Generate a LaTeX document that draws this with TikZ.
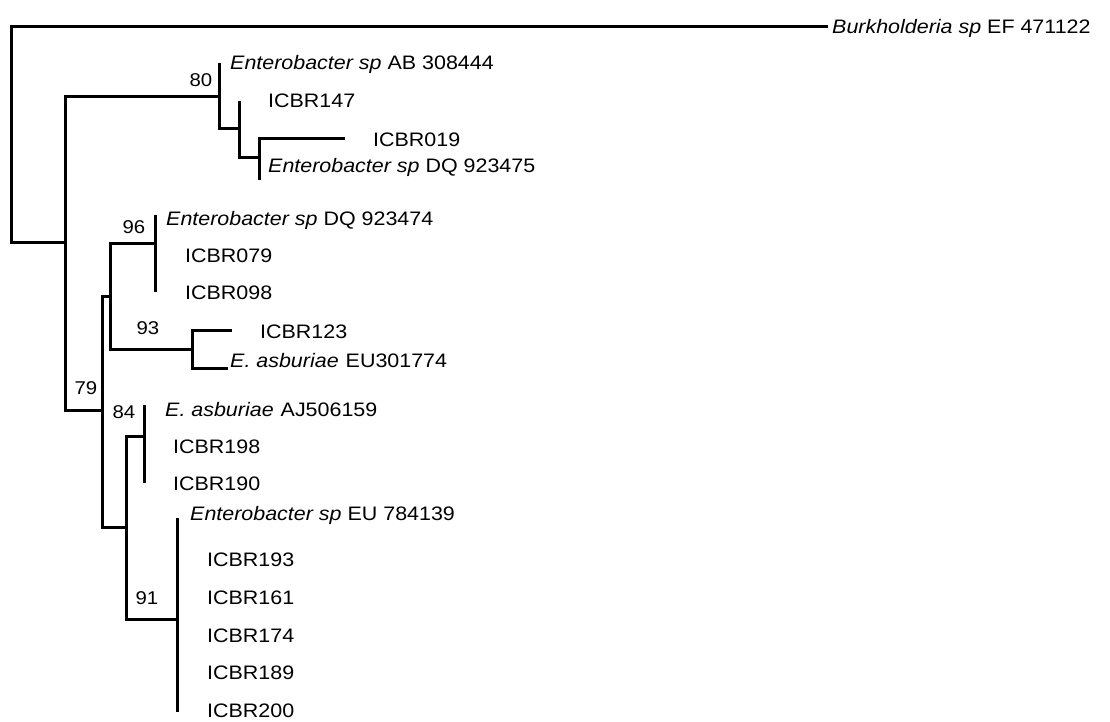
\documentclass[tikz,border=0pt]{standalone}
\usepackage{fontspec}
\setmainfont{Liberation Sans}[FakeStretch=1.1]
\begin{document}
\begin{tikzpicture}[x=1pt,y=-1pt,
  branch/.style={line width=3pt,line join=miter},
  leaf/.style={anchor=base west,inner sep=0pt,font=\fontsize{19.5}{22}\selectfont},
  boot/.style={anchor=center,inner sep=0pt,font=\fontsize{18.5}{20}\selectfont}]
\useasboundingbox[fill=white] (0,0) rectangle (1110,722);
% internal nodes
\coordinate (root) at (11,135);
\coordinate (A) at (65,242);
\coordinate (B) at (219,97);
\coordinate (C) at (239,129);
\coordinate (D) at (259,158);
\coordinate (E) at (102,410);
\coordinate (F) at (110,296);
\coordinate (G) at (155,243);
\coordinate (H) at (192,349);
\coordinate (I) at (126,527);
\coordinate (J) at (144,436);
\coordinate (K) at (177,619);
% leaf ends
\coordinate (lBur) at (828,27);
\coordinate (lAB) at (219,63);
\coordinate (l147) at (239,101);
\coordinate (l019) at (345,139);
\coordinate (lDQ5) at (259,180);
\coordinate (lDQ4) at (155,215);
\coordinate (l079) at (155,254);
\coordinate (l098) at (155,292);
\coordinate (l123) at (232,330);
\coordinate (lEU3) at (228,368);
\coordinate (lAJ) at (144,405);
\coordinate (l198) at (144,446);
\coordinate (l190) at (144,483);
\coordinate (lEU7) at (177,518);
\coordinate (l193) at (177,558);
\coordinate (l161) at (177,596);
\coordinate (l174) at (177,634);
\coordinate (l189) at (177,671);
\coordinate (l200) at (177,712);
% branches
\draw[branch] (root) |- (lBur);
\draw[branch] (root) |- (A);
\draw[branch] (A) |- (B);
\draw[branch] (A) |- (E);
\draw[branch] (B) |- (lAB);
\draw[branch] (B) |- (C);
\draw[branch] (C) |- (l147);
\draw[branch] (C) |- (D);
\draw[branch] (D) |- (l019);
\draw[branch] (D) |- (lDQ5);
\draw[branch] (E) |- (F);
\draw[branch] (E) |- (I);
\draw[branch] (F) |- (G);
\draw[branch] (F) |- (H);
\draw[branch] (G) |- (lDQ4);
\draw[branch] (G) |- (l098);
\draw[branch] (H) |- (l123);
\draw[branch] (H) |- (lEU3);
\draw[branch] (I) |- (J);
\draw[branch] (I) |- (K);
\draw[branch] (J) |- (lAJ);
\draw[branch] (J) |- (l190);
\draw[branch] (K) |- (lEU7);
\draw[branch] (K) |- (l200);
% leaf labels
\node[leaf] (tBur) at (832,34) {\textit{Burkholderia sp} EF 471122};
\node[leaf] (tAB) at (230,70) {\textit{Enterobacter sp} AB 308444};
\node[leaf] (t147) at (268,108) {ICBR147};
\node[leaf] (t019) at (373,147) {ICBR019};
\node[leaf] (tDQ5) at (268,172) {\textit{Enterobacter sp} DQ 923475};
\node[leaf] (tDQ4) at (166,225) {\textit{Enterobacter sp} DQ 923474};
\node[leaf] (t079) at (185,262) {ICBR079};
\node[leaf] (t098) at (185,299) {ICBR098};
\node[leaf] (t123) at (260,338) {ICBR123};
\node[leaf] (tEU3) at (230,367) {\textit{E. asburiae}\hspace{7pt}EU301774};
\node[leaf] (tAJ) at (165,416) {\textit{E. asburiae}\hspace{7pt}AJ506159};
\node[leaf] (t198) at (173,453) {ICBR198};
\node[leaf] (t190) at (173,490) {ICBR190};
\node[leaf] (tEU7) at (190,520) {\textit{Enterobacter sp} EU 784139};
\node[leaf] (t193) at (207,566) {ICBR193};
\node[leaf] (t161) at (207,604) {ICBR161};
\node[leaf] (t174) at (207,642) {ICBR174};
\node[leaf] (t189) at (207,679) {ICBR189};
\node[leaf] (t200) at (207,717) {ICBR200};
% bootstrap values
\node[boot] (b80) at (201,80) {80};
\node[boot] (b96) at (134,227) {96};
\node[boot] (b93) at (148,328) {93};
\node[boot] (b79) at (86,388) {79};
\node[boot] (b84) at (124,412) {84};
\node[boot] (b91) at (147,598) {91};
\end{tikzpicture}
\end{document}
